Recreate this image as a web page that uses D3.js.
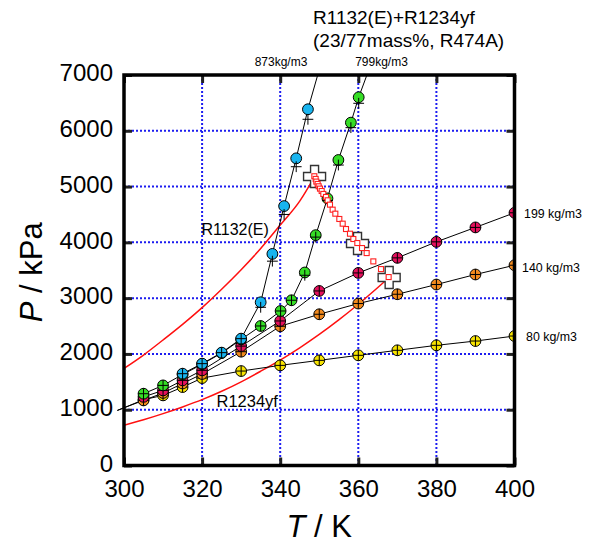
<!DOCTYPE html>
<html>
<head>
<meta charset="utf-8">
<script src="https://cdn.jsdelivr.net/npm/d3@7"></script>
<style>
  html, body { margin: 0; padding: 0; background: #fff; }
  svg { display: block; font-family: "Liberation Sans", Arial, sans-serif; }
</style>
</head>
<body>
<svg id="chart" width="592" height="543"></svg>
<script>
// Isochores of R1132(E)+R1234yf (R474A): measured P (circles) and calculated P (plus marks)
const T_80   = [305, 310, 315, 320, 330, 340, 350, 360, 370, 380, 390, 400];
const P_80   = [1180, 1257, 1406, 1567, 1693, 1795, 1885, 1975, 2065, 2154, 2231, 2321];
const Pc_80  = [1180, 1257, 1406, 1567, 1693, 1795, 1885, 1975, 2065, 2154, 2231, 2321];

const T_140  = [305, 310, 315, 320, 330, 340, 350, 360, 370, 380, 390, 400];
const P_140  = [1167, 1300, 1470, 1640, 2040, 2496, 2711, 2903, 3070, 3244, 3424, 3590];
const Pc_140 = [1167, 1300, 1470, 1640, 2040, 2496, 2711, 2903, 3070, 3244, 3424, 3590];

const T_199  = [305, 310, 315, 320, 330, 340, 350, 360, 370, 380, 390, 400];
const P_199  = [1230, 1346, 1526, 1706, 2140, 2591, 3129, 3452, 3722, 4009, 4268, 4530];
const Pc_199 = [1230, 1346, 1526, 1706, 2140, 2591, 3129, 3452, 3722, 4009, 4268, 4530];

const T_799  = [305, 310, 315, 320, 325, 330, 335, 340.1, 342.9, 346.3, 349.1, 352.1, 354.9, 358.1, 360.1, 363];
const P_799  = [1287, 1436, 1630, 1815, 2015, 2260, 2501, 2770, 2962, 3460, 4129, 4788, 5476, 6146, 6601, 7150];
const Pc_799 = [1287, 1436, 1630, 1815, 2015, 2260, 2501, 2770, 2962, 3410, 4094, 4750, 5386, 6056, 6493, 7150];

const T_873  = [315, 320, 325, 330, 335, 338, 341, 344.1, 347.1, 350.3];
const P_873  = [1646, 1826, 2023, 2274, 2926, 3793, 4650, 5506, 6386, 7170];
const Pc_873 = [1646, 1826, 2023, 2274, 2836, 3663, 4500, 5356, 6206, 7170];

// Low-temperature continuation of the two lowest isochore lines
const leadT = 298.3;
const leadP_80 = 985;
const leadP_140 = 990;

// Saturated vapour pressure curves of the pure components
const T_sat1132 = [300, 305, 310, 315, 320, 325, 330, 335, 340, 345, 348.8];
const P_sat1132 = [1740, 1980, 2250, 2530, 2830, 3160, 3510, 3890, 4310, 4740, 5180];
const T_sat1234 = [300, 305, 310, 315, 320, 325, 330, 335, 340, 345, 350, 355, 360, 365, 367.9];
const P_sat1234 = [720, 820, 930, 1050, 1180, 1330, 1500, 1690, 1890, 2110, 2350, 2610, 2890, 3190, 3370];

// Critical points: R1132(E), R474A mixture, R1234yf
const critT = [348.8, 359.8, 367.9];
const critP = [5180, 3980, 3370];

// Critical locus of the binary system
const locusT = [348.74, 349.08, 349.25, 349.59, 349.85, 350.19, 350.62, 351.04, 351.73, 352.15, 352.75,
                353.43, 354.12, 355.14, 356.0, 356.85, 357.87, 358.73, 359.75, 360.95, 362.14, 363.85,
                365.81, 367.77];
const locusP = [5185, 5137, 5089, 5047, 5005, 4963, 4921, 4868, 4814, 4754, 4676,
                4586, 4514, 4419, 4335, 4239, 4155, 4060, 3988, 3898, 3808, 3659,
                3521, 3378];

const xTicks = [300, 320, 340, 360, 380, 400];
const yTicks = [0, 1000, 2000, 3000, 4000, 5000, 6000, 7000];

const svg = d3.select("#chart");
const x = d3.scaleLinear().domain([300, 400]).range([124, 514.5]);
const y = d3.scaleLinear().domain([0, 7000]).range([465.5, 75]);
const [x0, x1] = x.range();
const [y0, y1] = y.range();

svg.append("defs").append("clipPath").attr("id", "plotClip")
  .append("rect").attr("x", x0 - 7).attr("y", y1).attr("width", x1 - x0 + 7).attr("height", y0 - y1);
svg.append("defs").append("clipPath").attr("id", "innerClip")
  .append("rect").attr("x", x0).attr("y", y1).attr("width", x1 - x0).attr("height", y0 - y1);

// dotted blue grid
const grid = svg.append("g");
grid.selectAll(".gx").data(xTicks.slice(1, -1)).join("line")
  .attr("x1", d => x(d)).attr("x2", d => x(d)).attr("y1", y1).attr("y2", y0)
  .attr("stroke", "#1c1cf0").attr("stroke-width", 2).attr("stroke-dasharray", "2,2");
grid.selectAll(".gy").data(yTicks.slice(0, -1)).join("line")
  .attr("x1", x0).attr("x2", x1).attr("y1", d => y(d)).attr("y2", d => y(d))
  .attr("stroke", "#1c1cf0").attr("stroke-width", 2).attr("stroke-dasharray", "2,2");

// saturation curves
const sat = svg.append("g").attr("clip-path", "url(#innerClip)");
const satLine = d3.line().x(d => x(d[0])).y(d => y(d[1])).curve(d3.curveMonotoneX);
sat.append("path").datum(d3.zip(T_sat1132, P_sat1132)).attr("d", satLine)
  .attr("fill", "none").attr("stroke", "#ff1010").attr("stroke-width", 1.5);
sat.append("path").datum(d3.zip(T_sat1234, P_sat1234)).attr("d", satLine)
  .attr("fill", "none").attr("stroke", "#ff1010").attr("stroke-width", 1.5);

// isochores, drawn from lowest density upwards
const series = [
  { T: T_80,  P: P_80,  Pc: Pc_80,  lead: [leadT, leadP_80],  color: "#f7e300" },
  { T: T_140, P: P_140, Pc: Pc_140, lead: [leadT, leadP_140], color: "#f28a1e" },
  { T: T_199, P: P_199, Pc: Pc_199, lead: null,               color: "#e5105c" },
  { T: T_799, P: P_799, Pc: Pc_799, lead: null,               color: "#35dd25" },
  { T: T_873, P: P_873, Pc: Pc_873, lead: null,               color: "#18b4ef" }
];

const iso = svg.append("g").attr("clip-path", "url(#plotClip)");
const isoLine = d3.line().x(d => x(d[0])).y(d => y(d[1]));
const R = 5.4;
series.forEach(s => {
  const pts = d3.zip(s.T, s.P);
  const linePts = s.lead ? [s.lead, ...pts] : pts;
  iso.append("path").datum(linePts).attr("d", isoLine)
    .attr("fill", "none").attr("stroke", "#000").attr("stroke-width", 1);
});
const marks = svg.append("g").attr("clip-path", "url(#innerClip)");
series.forEach(s => {
  const g = marks.append("g");
  g.selectAll("circle").data(d3.zip(s.T, s.P)).join("circle")
    .attr("cx", d => x(d[0])).attr("cy", d => y(d[1])).attr("r", R)
    .attr("fill", s.color).attr("stroke", "#000").attr("stroke-width", 1);
  g.selectAll("path.calc").data(d3.zip(s.T, s.Pc)).join("path").attr("class", "calc")
    .attr("d", d => {
      const cx = x(d[0]), cy = y(d[1]);
      return `M${cx - R},${cy}H${cx + R}M${cx},${cy - R}V${cy + R}`;
    })
    .attr("stroke", "#000").attr("stroke-width", 1).attr("fill", "none");
});

// critical points as open plus signs
const crossPath = (cx, cy) => {
  const a = 11, b = 4;
  return `M${cx - b},${cy - a}H${cx + b}V${cy - b}H${cx + a}V${cy + b}H${cx + b}V${cy + a}` +
         `H${cx - b}V${cy + b}H${cx - a}V${cy - b}H${cx - b}Z`;
};
svg.append("g").selectAll("path").data(d3.zip(critT, critP)).join("path")
  .attr("d", d => crossPath(x(d[0]), y(d[1])))
  .attr("fill", "#fff").attr("stroke", "#333").attr("stroke-width", 1.4);

// critical locus squares
const sq = 5;
svg.append("g").selectAll("rect").data(d3.zip(locusT, locusP)).join("rect")
  .attr("x", d => x(d[0]) - sq / 2).attr("y", d => y(d[1]) - sq / 2)
  .attr("width", sq).attr("height", sq)
  .attr("fill", "#fff").attr("stroke", "#ff2020").attr("stroke-width", 1.1);

// axes with inward ticks on all four sides
const tickStyle = g => {
  g.select(".domain").remove();
  g.selectAll(".tick line").attr("stroke", "#222").attr("stroke-width", 3);
  g.selectAll(".tick text").attr("fill", "#000").style("font-size", "24px")
    .style("font-family", "'Liberation Sans', Arial, sans-serif");
};
svg.append("g").attr("transform", `translate(0,${y0})`)
  .call(d3.axisBottom(x).tickValues(xTicks).tickFormat(d3.format("d")).tickSizeInner(-8).tickSizeOuter(0).tickPadding(14))
  .call(tickStyle);
svg.append("g").attr("transform", `translate(0,${y1})`)
  .call(d3.axisTop(x).tickValues(xTicks).tickFormat("").tickSizeInner(-8).tickSizeOuter(0))
  .call(tickStyle);
svg.append("g").attr("transform", `translate(${x0},0)`)
  .call(d3.axisLeft(y).tickValues(yTicks).tickFormat(d3.format("d")).tickSizeInner(-8).tickSizeOuter(0).tickPadding(11))
  .call(tickStyle)
  .call(g => g.selectAll(".tick text").attr("y", -2));
svg.append("g").attr("transform", `translate(${x1},0)`)
  .call(d3.axisRight(y).tickValues(yTicks).tickFormat("").tickSizeInner(-8).tickSizeOuter(0))
  .call(tickStyle);

// frame
svg.append("rect").attr("x", x0).attr("y", y1).attr("width", x1 - x0).attr("height", y0 - y1)
  .attr("fill", "none").attr("stroke", "#000").attr("stroke-width", 3.5);

// axis titles
svg.append("text").attr("transform", `translate(42,${(y0 + y1) / 2 + 2}) rotate(-90)`)
  .attr("text-anchor", "middle").style("font-size", "31px")
  .html('<tspan font-style="italic">P</tspan> / kPa');
svg.append("text").attr("x", (x0 + x1) / 2).attr("y", 537)
  .attr("text-anchor", "middle").style("font-size", "31px")
  .html('<tspan font-style="italic">T</tspan> / K');

// annotations
const note = (txt, px, py, size, anchor = "start") =>
  svg.append("text").attr("x", px).attr("y", py).attr("text-anchor", anchor)
    .style("font-size", size + "px").attr("fill", "#000").text(txt);
note("R1132(E)+R1234yf", 313, 24, 19);
note("(23/77mass%, R474A)", 313, 47, 19);
note("873kg/m3", 281, 66, 12, "middle");
note("799kg/m3", 381.5, 66, 12, "middle");
note("199 kg/m3", 524, 218, 12.4);
note("140 kg/m3", 522, 271.5, 12.4);
note("80 kg/m3", 526, 341, 12.4);
note("R1132(E)", 201.5, 235, 16);
note("R1234yf", 216.5, 407, 16.5);
</script>
</body>
</html>
